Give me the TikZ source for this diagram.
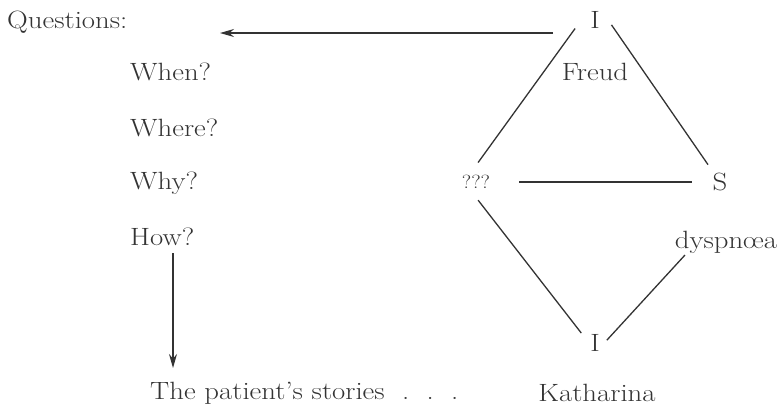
\documentclass[tikz,border=0pt]{standalone}
\usepackage{fontspec}
\setmainfont{Latin Modern Roman}[FakeStretch=1.15]
\usetikzlibrary{calc,arrows.meta}
\begin{document}
\begin{tikzpicture}[x=1pt,y=-1pt,
  lbl/.style={font=\fontsize{25}{29}\selectfont, text=black!80, inner sep=0pt},
  conn/.style={draw=black!80, line width=1.3pt},
  arr/.style={conn, -{Stealth[length=14pt,width=8pt]}}]
\useasboundingbox (0,0) rectangle (780,413);
% left column
\node[lbl, anchor=west] (q) at (7,22) {Questions:};
\node[lbl, anchor=west] (when) at (130,72) {When?};
\node[lbl, anchor=west] (where) at (130,128) {Where?};
\node[lbl, anchor=west] (why) at (130,183) {Why?};
\node[lbl, anchor=west] (how) at (130,237) {How?};
\node[lbl, anchor=west] (pat) at (150,393) {The patient's stories~~.~~.~~.};
% diagram
\node[lbl] (I1) at (595,20) {I};
\node[lbl] (fr) at (595,72) {Freud};
\node[lbl, font=\fontsize{19}{22}\selectfont] (Q3) at (476,182) {???};
\node[lbl] (S) at (720,182) {S};
\node[lbl] (dys) at (726,242) {dyspn\oe a};
\node[lbl] (I2) at (595,343) {I};
\node[lbl] (kat) at (597,393) {Katharina};
% apex helpers
\coordinate (top) at ($(I1.center)+(0,-19)$);
\coordinate (lft) at ($(Q3.center)+(-12,0)$);
\coordinate (bot) at ($(I2.center)+(1,9)$);
\coordinate (dyend) at ($(dys.center)+(-41,13)$);
% connectors
\draw[conn, shorten <=34pt, shorten >=24pt] (top) -- (lft);
\draw[conn, shorten <=29pt, shorten >=10pt] (top) -- (S);
\draw[conn, shorten <=29pt, shorten >=20pt] (Q3) -- (S);
\draw[conn, shorten <=23pt, shorten >=24pt] (lft) -- (bot);
\draw[conn, shorten <=16pt] (bot) -- (dyend);
% arrows
\coordinate (ha) at ($(I1.center)+(-42,13)$);
\coordinate (hb) at (220,33);
\draw[arr] (ha) -- (hb);
\coordinate (va) at (173,253);
\coordinate (vb) at (173,368);
\draw[arr] (va) -- (vb);
\end{tikzpicture}
\end{document}
